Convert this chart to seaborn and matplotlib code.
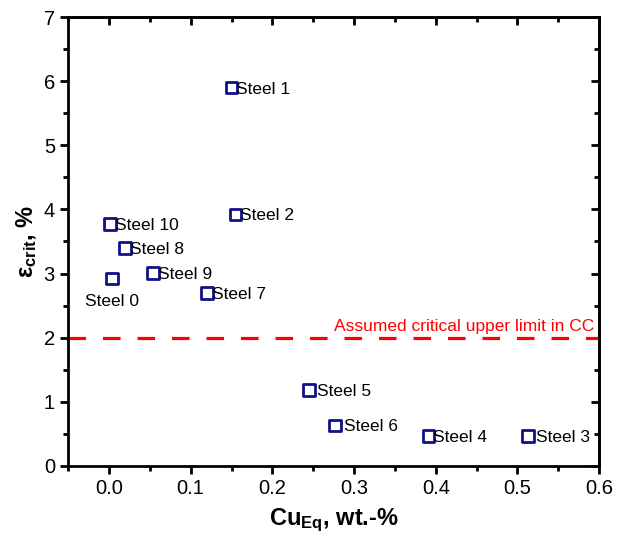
import matplotlib
matplotlib.use('Agg')
import matplotlib.pyplot as plt
import seaborn as sns
import pandas as pd
from matplotlib.ticker import MultipleLocator

# data
steels = ['Steel 0', 'Steel 1', 'Steel 2', 'Steel 3', 'Steel 4', 'Steel 5',
          'Steel 6', 'Steel 7', 'Steel 8', 'Steel 9', 'Steel 10']
cu_eq = [0.004, 0.150, 0.155, 0.513, 0.391, 0.245, 0.277, 0.120, 0.020, 0.054, 0.001]
eps_crit = [2.92, 5.90, 3.92, 0.46, 0.46, 1.18, 0.63, 2.70, 3.40, 3.01, 3.77]
crit_limit = 2.0

df = pd.DataFrame({'steel': steels, 'cu': cu_eq, 'eps': eps_crit})

sns.set_style('ticks')
plt.rcParams['font.family'] = ['Liberation Sans', 'DejaVu Sans']
plt.rcParams['mathtext.fontset'] = 'custom'
plt.rcParams['mathtext.rm'] = 'Liberation Sans'
plt.rcParams['mathtext.bf'] = 'Liberation Sans:bold'
plt.rcParams['text.color'] = 'black'
plt.rcParams['axes.labelcolor'] = 'black'
plt.rcParams['xtick.color'] = 'black'
plt.rcParams['ytick.color'] = 'black'

fig = plt.figure(figsize=(6.19, 5.36), dpi=100)
ax = fig.add_axes([0.110, 0.131, 0.858, 0.837])

sns.scatterplot(data=df, x='cu', y='eps', ax=ax, marker='s', s=70,
                facecolor='none', edgecolor='#10108a', linewidth=2, zorder=3)

# labels next to the markers
for name, x, y in zip(steels, cu_eq, eps_crit):
    if name == 'Steel 0':
        ax.annotate(name, (x, y), xytext=(0, -11), textcoords='offset points',
                    ha='center', va='top', fontsize=12.5)
    elif name in ('Steel 5', 'Steel 6', 'Steel 3'):
        ax.annotate(name, (x, y), xytext=(6, -1), textcoords='offset points',
                    ha='left', va='center', fontsize=12.5)
    else:
        ax.annotate(name, (x, y), xytext=(3.5, -1), textcoords='offset points',
                    ha='left', va='center', fontsize=12.5)

ax.axhline(crit_limit, color='#ff0000', linestyle=(0, (5.5, 5.3)), linewidth=2.3, zorder=2)
ax.text(0.594, crit_limit + 0.06, 'Assumed critical upper limit in CC', color='#ff0000',
        ha='right', va='bottom', fontsize=12.5)

ax.set_xlim(-0.05, 0.6)
ax.set_ylim(0, 7)
ax.xaxis.set_major_locator(MultipleLocator(0.1))
ax.xaxis.set_minor_locator(MultipleLocator(0.05))
ax.yaxis.set_major_locator(MultipleLocator(1))
ax.yaxis.set_minor_locator(MultipleLocator(0.5))
ax.set_xticks([0.0, 0.1, 0.2, 0.3, 0.4, 0.5, 0.6])
ax.set_xticklabels(['0.0', '0.1', '0.2', '0.3', '0.4', '0.5', '0.6'])

ax.tick_params(which='major', direction='out', length=6, width=2, labelsize=14.5, color='black')
ax.tick_params(which='minor', direction='out', length=3.5, width=2)

# mirrored ticks on top/right pointing inward
top = ax.secondary_xaxis('top')
top.xaxis.set_major_locator(MultipleLocator(0.1))
top.xaxis.set_minor_locator(MultipleLocator(0.05))
top.tick_params(which='major', direction='in', length=6, width=2, labeltop=False)
top.tick_params(which='minor', direction='in', length=3.5, width=2)
right = ax.secondary_yaxis('right')
right.yaxis.set_major_locator(MultipleLocator(1))
right.yaxis.set_minor_locator(MultipleLocator(0.5))
right.tick_params(which='major', direction='in', length=6, width=2, labelright=False)
right.tick_params(which='minor', direction='in', length=3.5, width=2)
for sp in ax.spines.values():
    sp.set_linewidth(2)
    sp.set_color('black')
    sp.set_visible(True)
top.spines['top'].set_linewidth(2)
right.spines['right'].set_linewidth(2)

ax.set_xlabel(r'$\mathbf{Cu_{Eq}}$, wt.-%', fontsize=17, fontweight='bold', labelpad=6)
ax.set_ylabel(r'$\mathbf{ε_{crit}}$, %', fontsize=17, fontweight='bold', labelpad=3)

fig.savefig('out.png', dpi=100)
